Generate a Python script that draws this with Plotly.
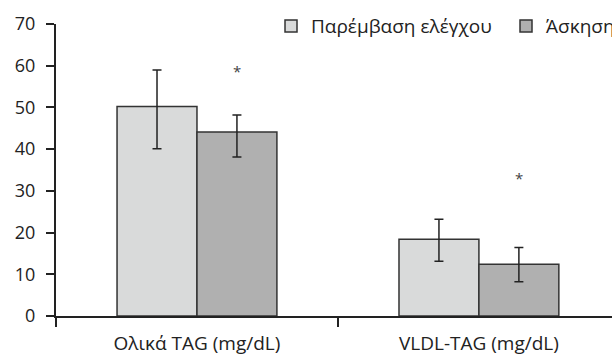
import plotly.graph_objects as go

categories = ["Ολικά TAG (mg/dL)", "VLDL-TAG (mg/dL)"]
series_names = ["Παρέμβαση ελέγχου", "Άσκηση"]
control_vals = [50.2, 18.4]
control_err_plus = [8.8, 4.8]
control_err_minus = [10.1, 5.3]
exercise_vals = [44.1, 12.4]
exercise_err_plus = [4.1, 4.0]
exercise_err_minus = [6.0, 4.2]
star_y = [58.8, 33.2]
y_ticks = [0, 10, 20, 30, 40, 50, 60, 70]

FONT = "Open Sans"
FS = 18
INK = "#222222"

xpos = list(range(len(categories)))
boundaries = [i - 0.5 for i in range(len(categories))]

fig = go.Figure()
fig.add_trace(go.Bar(
    name=series_names[0], x=xpos, y=control_vals,
    marker=dict(color="#d9dada", line=dict(color="#333333", width=1.5)),
    error_y=dict(type="data", symmetric=False, array=control_err_plus,
                 arrayminus=control_err_minus, color=INK, thickness=1.5, width=4.5),
))
fig.add_trace(go.Bar(
    name=series_names[1], x=xpos, y=exercise_vals,
    marker=dict(color="#b0b0b0", line=dict(color="#333333", width=1.5)),
    error_y=dict(type="data", symmetric=False, array=exercise_err_plus,
                 arrayminus=exercise_err_minus, color=INK, thickness=1.5, width=4.5),
))

for xp, sy in zip(xpos, star_y):
    fig.add_annotation(x=xp, y=sy, text="*", showarrow=False, xshift=40,
                       font=dict(family=FONT, size=15, color="#444444"))

fig.update_layout(
    width=612, height=356,
    margin=dict(l=56, r=0, t=24, b=40, autoexpand=False),
    plot_bgcolor="white", paper_bgcolor="white",
    barmode="group", bargap=0.433, bargroupgap=0,
    font=dict(family=FONT, size=FS, color=INK),
    showlegend=True,
    legend=dict(orientation="h", x=0.3867, xanchor="left", y=0.993, yanchor="middle",
                font=dict(family=FONT, size=19, color=INK), bgcolor="rgba(0,0,0,0)",
                itemwidth=30, entrywidth=190, entrywidthmode="pixels"),
    xaxis=dict(range=[-0.5, 1.472], showline=True, linecolor=INK, linewidth=2,
               tickmode="array", tickvals=xpos, ticktext=categories, ticks="",
               tickfont=dict(size=19),
               showgrid=False, zeroline=False, ticklabelstandoff=9,
               minor=dict(tickmode="array", tickvals=boundaries, ticks="outside",
                          ticklen=9, tickwidth=1.5, tickcolor=INK, showgrid=False)),
    yaxis=dict(range=[0, 70], tickvals=y_ticks, showline=True, linecolor=INK, linewidth=2,
               ticks="outside", ticklen=8, tickwidth=1.5, tickcolor=INK,
               showgrid=False, zeroline=False, ticklabelstandoff=7),
)

fig.write_html("out.html")
